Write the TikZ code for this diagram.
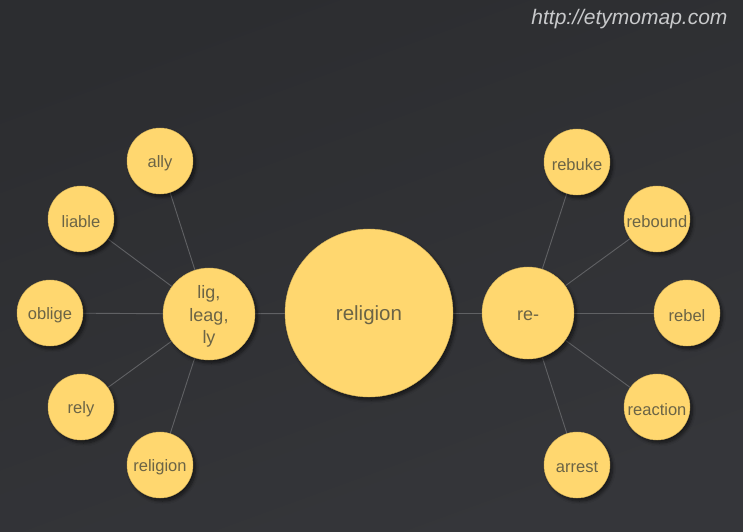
\documentclass[tikz,border=0pt]{standalone}
\usepackage{fontspec}
\setmainfont{Liberation Sans}
\usetikzlibrary{shadows.blur}
\definecolor{bgtop}{HTML}{2C2D30}
\definecolor{bgbot}{HTML}{35363A}
\definecolor{nodefill}{HTML}{FFD76F}
\definecolor{nodeedge}{HTML}{D6B45A}
\definecolor{nodetext}{HTML}{6B6446}
\definecolor{edgecol}{HTML}{606164}
\definecolor{urlcol}{HTML}{C8C9CB}
\tikzset{
  bubble/.style={circle, fill=nodefill, draw=nodeedge, line width=0.4pt,
    inner sep=0pt,
    blur shadow={shadow xshift=2.5pt, shadow yshift=-3pt, shadow blur steps=8, shadow opacity=55, shadow blur radius=3pt}},
  small/.style={bubble, minimum size=66pt},
  mid/.style={bubble, minimum size=92pt},
  big/.style={bubble, minimum size=168pt},
  lbl/.style={text=nodetext, inner sep=0pt, align=center, yshift=-2.5pt, font=\fontsize{16.5}{19}\selectfont},
  midlbl/.style={lbl, font=\fontsize{18}{22.5}\selectfont},
  biglbl/.style={lbl, font=\fontsize{20.5}{24}\selectfont},
  link/.style={draw=edgecol, line width=0.9pt}
}
\begin{document}
\begin{tikzpicture}[x=1pt,y=-1pt]
\shade[top color=bgtop, bottom color=bgbot, shading angle=20] (0,0) rectangle (743,531);
\useasboundingbox (0,0) rectangle (743,531);
\node[anchor=east, text=urlcol, font=\fontsize{21}{24}\selectfont\itshape] (url) at (731,19) {http://etymomap.com};
\coordinate (pLig) at (209,314);
\coordinate (pRe) at (528,313);
\path (160,161) coordinate (cAlly) (81,219) coordinate (cLiable)
  (50,313) coordinate (cOblige) (81,407) coordinate (cRely) (160,465) coordinate (cReligionS)
  (369,313) coordinate (cRel) (577,162) coordinate (cRebuke) (657,219) coordinate (cRebound)
  (687,313) coordinate (cRebel) (657,407) coordinate (cReaction) (577,465) coordinate (cArrest);
\foreach \t in {cAlly,cLiable,cOblige,cRely,cReligionS,cRel} \draw[link] (pLig) -- (\t);
\foreach \t in {cRebuke,cRebound,cRebel,cReaction,cArrest,cRel} \draw[link] (pRe) -- (\t);
% circles
\node[small] (ally) at (cAlly) {};
\node[small] (liable) at (cLiable) {};
\node[small] (oblige) at (cOblige) {};
\node[small] (rely) at (cRely) {};
\node[small] (religions) at (cReligionS) {};
\node[mid] (lig) at (pLig) {};
\node[big] (religion) at (cRel) {};
\node[mid] (re) at (pRe) {};
\node[small] (rebuke) at (cRebuke) {};
\node[small] (rebound) at (cRebound) {};
\node[small] (rebel) at (cRebel) {};
\node[small] (reaction) at (cReaction) {};
\node[small] (arrest) at (cArrest) {};
% labels
\node[lbl] (ally-t) at (ally) {ally};
\node[lbl] (liable-t) at (liable) {liable};
\node[lbl] (oblige-t) at (oblige) {oblige};
\node[lbl] (rely-t) at (rely) {rely};
\node[lbl] (religions-t) at (religions) {religion};
\node[midlbl] (lig-t) at (lig) {lig,\\leag,\\ly};
\node[biglbl] (religion-t) at (religion) {religion};
\node[midlbl] (re-t) at (re) {re-};
\node[lbl] (rebuke-t) at (rebuke) {rebuke};
\node[lbl] (rebound-t) at (rebound) {rebound};
\node[lbl] (rebel-t) at (rebel) {rebel};
\node[lbl] (reaction-t) at (reaction) {reaction};
\node[lbl] (arrest-t) at (arrest) {arrest};
\end{tikzpicture}
\end{document}
